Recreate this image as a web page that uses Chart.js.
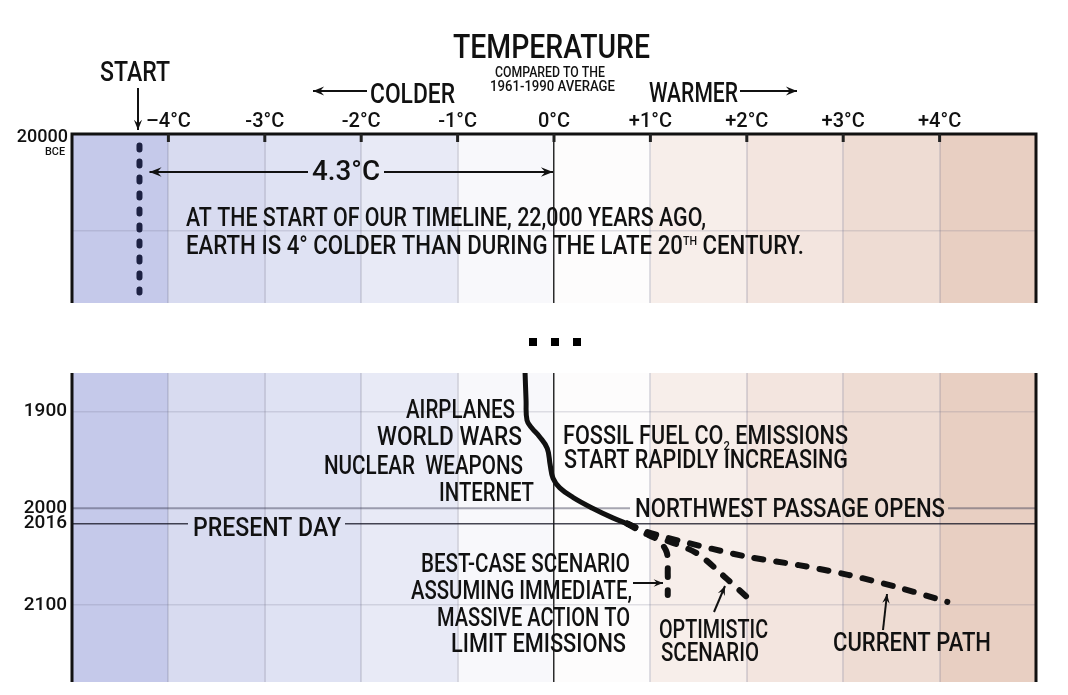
<!DOCTYPE html>
<html>
<head>
<meta charset="utf-8">
<script src="https://cdn.jsdelivr.net/npm/chart.js@4"></script>
<style>
  body { margin: 0; background: #fff; }
  #wrap { position: relative; width: 1068px; height: 695px; }
  canvas { position: absolute; left: 0; }
  #top { top: 0; }
  #bottom { top: 365px; }
</style>
</head>
<body>
<div id="wrap">
  <canvas id="top" width="1068" height="365"></canvas>
  <canvas id="bottom" width="1068" height="330"></canvas>
</div>
<script>
// axis ticks
const tempTicks = [-4, -3, -2, -1, 0, 1, 2, 3, 4];
const tempLabels = ['–4°C', '-3°C', '-2°C', '-1°C', '0°C', '+1°C', '+2°C', '+3°C', '+4°C'];
const bceTicks = [-20000, -19900];
const yearTicks = [1900, 2000, 2016, 2100];

// 20000 BCE : dotted start line (years BCE as negative)
const startYears = [-19988, -19836];
const startTemps = [-4.3, -4.3];

// measured temperature since 1860
const histYears = [1860, 1888, 1909, 1917, 1926, 1938, 1955, 1969, 1979, 1989, 2000, 2010, 2016];
const histTemps = [-0.30, -0.29, -0.28, -0.23, -0.15, -0.07, -0.04, -0.01, 0.06, 0.20, 0.40, 0.61, 0.76];

// scenarios
const bestYears = [2016, 2025, 2033, 2046, 2068, 2090];
const bestTemps = [0.76, 0.92, 1.08, 1.17, 1.18, 1.18];
const optYears = [2016, 2028, 2046, 2072, 2092];
const optTemps = [0.76, 1.02, 1.47, 1.78, 2.0];
const curYears = [2016, 2024, 2033, 2050, 2059, 2069, 2082, 2097];
const curTemps = [0.76, 0.95, 1.27, 1.99, 2.54, 3.05, 3.57, 4.08];

const FONT = "Roboto, 'DejaVu Sans', sans-serif";
const WEIGHT = '500 ';
const INK = '#111';
const bandColors = ['#c5c9ea', '#d8dbf0', '#dfe2f3', '#e8eaf6', '#f8f8fb',
                    '#fdfcfc', '#f7eeea', '#f3e5df', '#eedcd3', '#e8cfc2'];

function pts(years, temps) {
  return years.map((y, i) => ({ x: temps[i], y: y }));
}

// text fitted to a width, vertically centred on the cap height
function txt(ctx, runs, x, cy, w, align) {
  if (typeof runs === 'string') runs = [{ t: runs, s: 25 }];
  ctx.save();
  let total = 0;
  runs.forEach(r => {
    ctx.font = WEIGHT + r.s + 'px ' + FONT;
    r.w = ctx.measureText(r.t).width;
    total += r.w;
  });
  const k = w / total;
  const left = align === 'right' ? x - w : align === 'center' ? x - w / 2 : x;
  const base = cy + runs[0].s * 0.355;
  ctx.translate(left, base);
  ctx.scale(k, 1);
  ctx.fillStyle = INK;
  ctx.textAlign = 'left';
  ctx.textBaseline = 'alphabetic';
  let cx = 0;
  runs.forEach(r => {
    ctx.font = WEIGHT + r.s + 'px ' + FONT;
    ctx.fillText(r.t, cx, r.dy || 0);
    cx += r.w;
  });
  ctx.restore();
}

function arrow(ctx, x1, y1, x2, y2, head) {
  head = head || 11;
  ctx.beginPath();
  ctx.moveTo(x1, y1);
  ctx.lineTo(x2, y2);
  ctx.stroke();
  const a = Math.atan2(y2 - y1, x2 - x1);
  ctx.beginPath();
  ctx.moveTo(x2, y2);
  ctx.lineTo(x2 - head * Math.cos(a - 0.38), y2 - head * Math.sin(a - 0.38));
  ctx.lineTo(x2 - head * 0.6 * Math.cos(a), y2 - head * 0.6 * Math.sin(a));
  ctx.lineTo(x2 - head * Math.cos(a + 0.38), y2 - head * Math.sin(a + 0.38));
  ctx.closePath();
  ctx.fill();
}

function drawBands(chart) {
  const { ctx, chartArea: a, scales: { x } } = chart;
  ctx.save();
  ctx.fillStyle = '#fff';
  ctx.fillRect(0, 0, chart.width, chart.height);
  for (let i = 0; i < 10; i++) {
    const x0 = x.getPixelForValue(-5 + i);
    const x1 = x.getPixelForValue(-4 + i);
    ctx.fillStyle = bandColors[i];
    ctx.fillRect(x0, a.top, x1 - x0, a.bottom - a.top);
  }
  ctx.restore();
}

function sideBorders(ctx, a, withTop) {
  ctx.save();
  ctx.strokeStyle = INK;
  ctx.lineWidth = 3;
  ctx.beginPath();
  ctx.moveTo(a.left, a.bottom);
  ctx.lineTo(a.left, a.top);
  if (withTop) ctx.lineTo(a.right, a.top); else ctx.moveTo(a.right, a.top);
  ctx.lineTo(a.right, a.bottom);
  ctx.stroke();
  ctx.restore();
}

const gridX = {
  color: c => c.tick.value === 0 ? '#2a2a2a' : 'rgba(110,110,135,0.22)',
  lineWidth: c => c.tick.value === 0 ? 1.5 : 2,
  drawTicks: false
};

// fixed axis sizes, no extra room for edge labels
function fixY(s) {
  s.width = 72;
  s.paddingTop = 0;
  s.paddingBottom = 0;
}

const topDecor = {
  id: 'topDecor',
  beforeDraw: drawBands,
  afterDraw(chart) {
    const { ctx, chartArea: a, scales: { x } } = chart;
    sideBorders(ctx, a, true);
    ctx.save();
    // tick marks inside the frame
    ctx.strokeStyle = '#222';
    ctx.lineWidth = 3;
    tempTicks.forEach(v => {
      const px = x.getPixelForValue(v);
      ctx.beginPath();
      ctx.moveTo(px, a.top);
      ctx.lineTo(px, a.top + 8);
      ctx.stroke();
    });
    ctx.fillStyle = INK;
    ctx.strokeStyle = INK;
    ctx.lineWidth = 2;
    txt(ctx, [{ t: 'TEMPERATURE', s: 34 }], 453, 46, 197);
    txt(ctx, [{ t: 'COMPARED TO THE', s: 14 }], 495, 72, 110);
    txt(ctx, [{ t: '1961-1990 AVERAGE', s: 15 }], 490, 86, 125);
    txt(ctx, [{ t: 'COLDER', s: 28 }], 370, 93, 85);
    arrow(ctx, 367, 91, 313, 91, 12);
    txt(ctx, [{ t: 'WARMER', s: 28 }], 649, 92, 89);
    arrow(ctx, 740, 91, 797, 91, 12);
    txt(ctx, [{ t: 'START', s: 28 }], 100, 71, 70);
    arrow(ctx, 138, 88, 138, 130, 11);
    txt(ctx, [{ t: 'BCE', s: 11 }], 65, 151, 20, 'right');
    // 4.3 degree span
    const yArr = 172;
    const xl = x.getPixelForValue(startTemps[0]) + 10;
    const xr = x.getPixelForValue(0) - 1;
    arrow(ctx, 308, yArr, xl, yArr, 13);
    arrow(ctx, 384, yArr, xr, yArr, 13);
    txt(ctx, [{ t: '4.3°C', s: 28 }], 312, 170, 68);
    txt(ctx, [{ t: 'AT THE START OF OUR TIMELINE, 22,000 YEARS AGO,', s: 25 }], 186, 217, 520);
    txt(ctx, [{ t: 'EARTH IS 4° COLDER THAN DURING THE LATE 20', s: 25 },
              { t: 'TH', s: 12, dy: -9 },
              { t: ' CENTURY.', s: 25 }], 186, 245, 618);
    // the gap between the two panels
    ctx.fillStyle = '#000';
    [533, 555, 577].forEach(cx => ctx.fillRect(cx - 4, 338, 8, 8));
    ctx.restore();
  }
};

new Chart(document.getElementById('top'), {
  type: 'scatter',
  data: {
    datasets: [{
      data: pts(startYears, startTemps),
      showLine: true,
      borderColor: '#1d2142',
      borderWidth: 6,
      borderDash: [4, 12],
      borderCapStyle: 'round',
      pointRadius: 0
    }]
  },
  options: {
    responsive: false,
    animation: false,
    layout: { padding: { left: 0, right: 32, top: 0, bottom: 62 } },
    plugins: { legend: { display: false }, tooltip: { enabled: false } },
    scales: {
      x: {
        type: 'linear', position: 'top', min: -5, max: 5,
        afterBuildTicks: s => { s.ticks = tempTicks.map(v => ({ value: v })); },
        afterFit: s => { s.height = 134; },
        ticks: {
          autoSkip: false, maxRotation: 0, padding: 0, color: INK,
          font: { family: FONT, size: 20, weight: 500 },
          callback: v => tempLabels[tempTicks.indexOf(v)]
        },
        grid: gridX,
        border: { display: false }
      },
      y: {
        type: 'linear', reverse: true, min: -20000, max: -19825,
        afterBuildTicks: s => { s.ticks = bceTicks.map(v => ({ value: v })); },
        afterFit: fixY,
        ticks: {
          autoSkip: false, padding: 4, color: INK, labelOffset: 3,
          font: { family: FONT, size: 18, weight: 500 },
          callback: v => v === -20000 ? '20000' : ''
        },
        grid: { color: 'rgba(110,110,135,0.2)', lineWidth: 1.5, drawTicks: false },
        border: { display: false }
      }
    }
  },
  plugins: [topDecor]
});

const bottomDecor = {
  id: 'bottomDecor',
  beforeDraw: drawBands,
  beforeDatasetsDraw(chart) {
    const { ctx, chartArea: a, scales: { y } } = chart;
    ctx.save();
    // 2000 line, broken by the label
    let py = y.getPixelForValue(2000);
    ctx.strokeStyle = 'rgba(60,60,85,0.45)';
    ctx.lineWidth = 2;
    ctx.beginPath();
    ctx.moveTo(a.left, py); ctx.lineTo(630, py);
    ctx.moveTo(948, py); ctx.lineTo(a.right, py);
    ctx.stroke();
    // present day line
    py = y.getPixelForValue(2016);
    ctx.strokeStyle = 'rgba(25,25,40,0.8)';
    ctx.lineWidth = 1.5;
    ctx.beginPath();
    ctx.moveTo(a.left, py); ctx.lineTo(188, py);
    ctx.moveTo(345, py); ctx.lineTo(a.right, py);
    ctx.stroke();
    ctx.restore();
  },
  afterDraw(chart) {
    const { ctx, chartArea: a } = chart;
    sideBorders(ctx, a, false);
    ctx.save();
    ctx.translate(0, -365);   // page coordinates
    ctx.fillStyle = INK;
    ctx.strokeStyle = INK;
    ctx.lineWidth = 2;
    txt(ctx, 'AIRPLANES', 515, 409, 109, 'right');
    txt(ctx, 'WORLD WARS', 522, 436, 145, 'right');
    txt(ctx, 'NUCLEAR  WEAPONS', 523, 465, 199, 'right');
    txt(ctx, 'INTERNET', 534, 492, 95, 'right');
    txt(ctx, [{ t: 'FOSSIL FUEL CO', s: 25 }, { t: '2', s: 13, dy: 6 }, { t: ' EMISSIONS', s: 25 }], 563, 435, 285);
    txt(ctx, 'START RAPIDLY INCREASING', 564, 459, 284);
    txt(ctx, 'NORTHWEST PASSAGE OPENS', 635, 508, 310);
    txt(ctx, 'PRESENT DAY', 193, 527, 148);
    txt(ctx, 'BEST-CASE SCENARIO', 421, 563, 209);
    txt(ctx, 'ASSUMING IMMEDIATE,', 411, 590, 221);
    txt(ctx, 'MASSIVE ACTION TO', 437, 617, 193);
    txt(ctx, 'LIMIT EMISSIONS', 451, 643, 175);
    arrow(ctx, 633, 583, 663, 583, 10);
    txt(ctx, 'OPTIMISTIC', 659, 629, 109);
    txt(ctx, 'SCENARIO', 661, 652, 98);
    arrow(ctx, 714, 612, 725, 586, 10);
    txt(ctx, 'CURRENT PATH', 833, 642, 158);
    arrow(ctx, 883, 630, 887, 594, 10);
    ctx.restore();
  }
};

function dashed(years, temps) {
  return {
    data: pts(years, temps),
    showLine: true,
    borderColor: INK,
    borderWidth: 6,
    borderDash: [9, 13],
    borderCapStyle: 'round',
    tension: 0.3,
    pointRadius: 0
  };
}

new Chart(document.getElementById('bottom'), {
  type: 'scatter',
  data: {
    datasets: [
      {
        data: pts(histYears, histTemps),
        showLine: true,
        borderColor: INK,
        borderWidth: 5,
        borderCapStyle: 'round',
        borderJoinStyle: 'round',
        tension: 0.4,
        pointRadius: 0
      },
      dashed(bestYears, bestTemps),
      dashed(optYears, optTemps),
      dashed(curYears, curTemps)
    ]
  },
  options: {
    responsive: false,
    animation: false,
    layout: { padding: { left: 0, right: 32, top: 8, bottom: 13 } },
    plugins: { legend: { display: false }, tooltip: { enabled: false } },
    scales: {
      x: {
        type: 'linear', position: 'top', min: -5, max: 5,
        afterBuildTicks: s => { s.ticks = tempTicks.map(v => ({ value: v })); },
        afterFit: s => { s.height = 0; s.paddingLeft = 0; s.paddingRight = 0; },
        ticks: { display: false },
        grid: gridX,
        border: { display: false }
      },
      y: {
        type: 'linear', reverse: true, min: 1860, max: 2180,
        afterBuildTicks: s => { s.ticks = yearTicks.map(v => ({ value: v })); },
        afterFit: fixY,
        ticks: {
          autoSkip: false, padding: 5, color: INK,
          font: { family: FONT, size: 19, weight: 500 },
          callback: v => String(v)
        },
        grid: {
          color: c => (c.tick.value === 2000 || c.tick.value === 2016) ? 'rgba(0,0,0,0)' : 'rgba(110,110,135,0.2)',
          lineWidth: 1.5,
          drawTicks: false
        },
        border: { display: false }
      }
    }
  },
  plugins: [bottomDecor]
});
</script>
</body>
</html>
